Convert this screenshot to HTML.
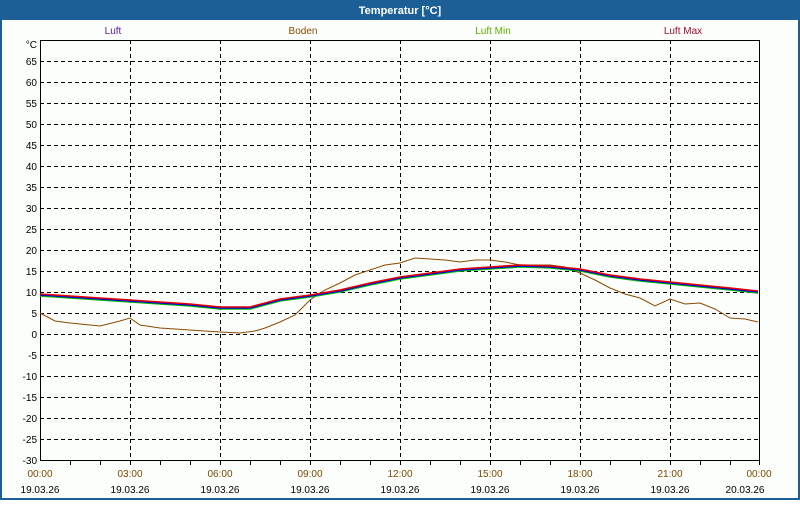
<!DOCTYPE html>
<html><head><meta charset="utf-8"><style>
body{margin:0;width:800px;height:500px;overflow:hidden;background:#fff;font-family:"Liberation Sans",sans-serif}
</style></head><body>
<svg width="800" height="500" xmlns="http://www.w3.org/2000/svg" font-family="Liberation Sans, sans-serif" font-size="10">
<rect x="0" y="0" width="800" height="500" fill="#1c5f96"/>
<rect x="2" y="20" width="796" height="478" fill="#fcfefc"/>
<text x="400" y="14" fill="#fff" font-weight="bold" font-size="11" text-anchor="middle">Temperatur [°C]</text>
<text x="113" y="34" fill="#5a1aa0" text-anchor="middle">Luft</text>
<text x="303" y="34" fill="#8b4a00" text-anchor="middle">Boden</text>
<text x="493" y="34" fill="#60b000" text-anchor="middle">Luft Min</text>
<text x="683" y="34" fill="#a01030" text-anchor="middle">Luft Max</text>
<g stroke="#000" stroke-dasharray="4,3" stroke-width="1">
<path d="M40 61.5H760M40 82.5H760M40 103.5H760M40 124.5H760M40 145.5H760M40 166.5H760M40 187.5H760M40 208.5H760M40 229.5H760M40 250.5H760M40 271.5H760M40 292.5H760M40 313.5H760M40 334.5H760M40 355.5H760M40 376.5H760M40 397.5H760M40 418.5H760M40 439.5H760"/>
<path d="M130.5 40V460M220.5 40V460M310.5 40V460M400.5 40V460M490.5 40V460M580.5 40V460M670.5 40V460"/>
</g>
<rect x="40.5" y="40.5" width="719" height="420" fill="none" stroke="#000"/>
<g stroke="#000"><path d="M70.5 461v4M100.5 461v4M130.5 461v4M160.5 461v4M190.5 461v4M220.5 461v4M250.5 461v4M280.5 461v4M310.5 461v4M340.5 461v4M370.5 461v4M400.5 461v4M430.5 461v4M460.5 461v4M490.5 461v4M520.5 461v4M550.5 461v4M580.5 461v4M610.5 461v4M640.5 461v4M670.5 461v4M700.5 461v4M730.5 461v4M759.5 461v4"/></g>
<g text-anchor="end" fill="#000">
<text x="37" y="48">°C</text><text x="37" y="65">65</text><text x="37" y="86">60</text><text x="37" y="107">55</text><text x="37" y="128">50</text><text x="37" y="149">45</text><text x="37" y="170">40</text><text x="37" y="191">35</text><text x="37" y="212">30</text><text x="37" y="233">25</text><text x="37" y="254">20</text><text x="37" y="275">15</text><text x="37" y="296">10</text><text x="37" y="317">5</text><text x="37" y="338">0</text><text x="37" y="359">-5</text><text x="37" y="380">-10</text><text x="37" y="401">-15</text><text x="37" y="422">-20</text><text x="37" y="443">-25</text><text x="37" y="464">-30</text>
</g>
<g text-anchor="middle">
<g fill="#7a4a00"><text x="40" y="477">00:00</text><text x="130" y="477">03:00</text><text x="220" y="477">06:00</text><text x="310" y="477">09:00</text><text x="400" y="477">12:00</text><text x="490" y="477">15:00</text><text x="580" y="477">18:00</text><text x="670" y="477">21:00</text><text x="759" y="477">00:00</text></g>
<g fill="#000"><text x="40" y="493">19.03.26</text><text x="130" y="493">19.03.26</text><text x="220" y="493">19.03.26</text><text x="310" y="493">19.03.26</text><text x="400" y="493">19.03.26</text><text x="490" y="493">19.03.26</text><text x="580" y="493">19.03.26</text><text x="670" y="493">19.03.26</text><text x="745" y="493">20.03.26</text></g>
</g>
<polyline fill="none" stroke="#8b4a00" stroke-width="1" points="40,313 55,321 70,323 100,326 120,321 130,318 140,325 160,328 190,330 220,332 240,333 255,331 265,328 280,322 295,315 310,300 325,290 340,283 355,275 370,270 385,265 400,263 415,258 430,259 445,260 460,262 475,260 490,260 505,262 520,265 535,265 550,265 565,267 580,273 595,280 610,288 625,294 640,298 655,306 670,299 685,304 700,303 715,309 730,318 745,319 758,322"/>
<g fill="none" stroke-width="1.6">
<polyline stroke="#00c000" transform="translate(0,1)" points="40,295 70,297 100,299 130,301 160,303 190,305 220,308 250,308 280,300 310,296 340,291 370,284 400,278 430,274 460,270 490,268 520,266 550,267 580,270 610,276 640,280 670,283 700,286 730,289 758,292"/>
<polyline stroke="#0000e0" points="40,295 70,297 100,299 130,301 160,303 190,305 220,308 250,308 280,300 310,296 340,291 370,284 400,278 430,274 460,270 490,268 520,266 550,267 580,270 610,276 640,280 670,283 700,286 730,289 758,292"/>
<polyline stroke="#e00000" transform="translate(0,-1)" points="40,295 70,297 100,299 130,301 160,303 190,305 220,308 250,308 280,300 310,296 340,291 370,284 400,278 430,274 460,270 490,268 520,266 550,267 580,270 610,276 640,280 670,283 700,286 730,289 758,292"/>
</g>
</svg>
</body></html>
